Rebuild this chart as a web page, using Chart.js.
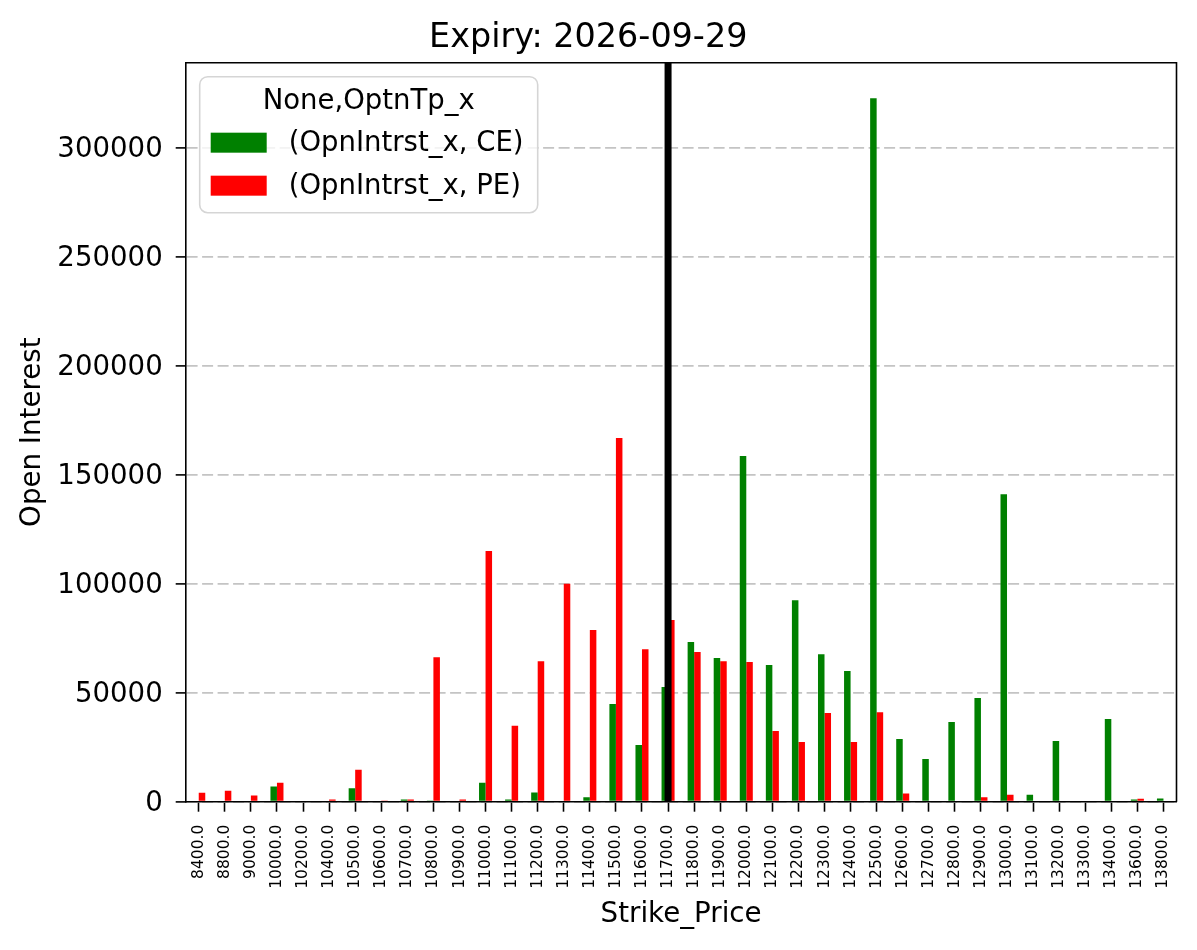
<!DOCTYPE html>
<html>
<head>
<meta charset="utf-8">
<script src="https://cdn.jsdelivr.net/npm/chart.js@4.4.1/dist/chart.umd.min.js"></script>
<style>
  html, body { margin: 0; padding: 0; background: #ffffff; }
  #wrap { width: 1197px; height: 950px; }
</style>
</head>
<body>
<div id="wrap"><canvas id="c" width="1197" height="950"></canvas></div>
<script>
const chartTitle = "Expiry: 2026-09-29";
const xAxisTitle = "Strike_Price";
const yAxisTitle = "Open Interest";
const legendTitle = "None,OptnTp_x";
const seriesNames = ["(OpnIntrst_x, CE)", "(OpnIntrst_x, PE)"];
const strikes = [8400,8800,9000,10000,10200,10400,10500,10600,10700,10800,10900,11000,11100,11200,11300,11400,11500,11600,11700,11800,11900,12000,12100,12200,12300,12400,12500,12600,12700,12800,12900,13000,13100,13200,13300,13400,13600,13800];
const ceOI = [0,0,0,7000,0,0,6200,0,1000,600,0,8700,1000,4200,0,2000,44800,26000,52600,73300,65900,158600,62700,92500,67700,60000,322800,28800,19600,36600,47600,141100,3200,27900,0,38000,1000,1500];
const peOI = [4100,5000,2800,8700,0,1000,14700,500,1000,66300,1000,115000,34800,64500,100000,78800,166900,70000,83400,68700,64500,64100,32400,27400,40700,27400,41100,3800,0,0,2000,3200,0,0,0,0,1400,0];
const yTicks = [0,50000,100000,150000,200000,250000,300000];
const yMax = 339150;
const spotStrike = 11700;

const labels = strikes.map(s => s.toFixed(1));
const FONT = "'DejaVu Sans', sans-serif";

const framePlugin = {
  id: 'frame',
  afterDraw(chart) {
    const {ctx, chartArea: a, scales} = chart;
    const xp = scales.x.getPixelForValue(labels.indexOf(spotStrike.toFixed(1)));
    ctx.save();
    ctx.strokeStyle = '#000000';
    ctx.lineWidth = 7;
    ctx.beginPath();
    ctx.moveTo(xp, a.top);
    ctx.lineTo(xp, a.bottom);
    ctx.stroke();
    ctx.lineWidth = 1.6;
    ctx.beginPath();
    ctx.moveTo(a.left, a.top);
    ctx.lineTo(a.right, a.top);
    ctx.lineTo(a.right, a.bottom);
    ctx.stroke();
    ctx.restore();
    const lx = a.left + 14, ly = a.top + 14, lw = 338, lh = 136, r = 8;
    ctx.save();
    ctx.beginPath();
    ctx.moveTo(lx + r, ly);
    ctx.lineTo(lx + lw - r, ly);
    ctx.arcTo(lx + lw, ly, lx + lw, ly + r, r);
    ctx.lineTo(lx + lw, ly + lh - r);
    ctx.arcTo(lx + lw, ly + lh, lx + lw - r, ly + lh, r);
    ctx.lineTo(lx + r, ly + lh);
    ctx.arcTo(lx, ly + lh, lx, ly + lh - r, r);
    ctx.lineTo(lx, ly + r);
    ctx.arcTo(lx, ly, lx + r, ly, r);
    ctx.closePath();
    ctx.fillStyle = 'rgba(255,255,255,0.8)';
    ctx.fill();
    ctx.strokeStyle = '#d5d5d5';
    ctx.lineWidth = 1.6;
    ctx.stroke();
    ctx.fillStyle = '#000000';
    ctx.font = "27.5px " + FONT;
    ctx.textAlign = 'center';
    ctx.textBaseline = 'middle';
    ctx.fillText(legendTitle, lx + lw / 2, ly + 25);
    chart.data.datasets.forEach((ds, i) => {
      const cy = ly + 66 + i * 43;
      ctx.fillStyle = ds.backgroundColor;
      ctx.fillRect(lx + 11, cy - 10, 56, 20);
      ctx.fillStyle = '#000000';
      ctx.textAlign = 'left';
      ctx.fillText(ds.label, lx + 89, cy + 1);
    });
    ctx.restore();
  }
};

new Chart(document.getElementById('c'), {
  type: 'bar',
  data: {
    labels: labels,
    datasets: [
      { label: seriesNames[0], data: ceOI, backgroundColor: '#008000', borderWidth: 0 },
      { label: seriesNames[1], data: peOI, backgroundColor: '#ff0000', borderWidth: 0 }
    ]
  },
  options: {
    responsive: false,
    devicePixelRatio: 1,
    animation: false,
    layout: { padding: { left: 0, right: 20.5, top: 0, bottom: 0 } },
    datasets: { bar: { categoryPercentage: 0.5, barPercentage: 1.0 } },
    plugins: {
      legend: { display: false },
      tooltip: { enabled: false },
      title: {
        display: true,
        text: chartTitle,
        color: '#000000',
        font: { family: FONT, size: 33.4, weight: 'normal', lineHeight: 1.2 },
        padding: { top: 18, bottom: 4.6 }
      }
    },
    scales: {
      x: {
        offset: true,
        grid: { display: true, drawOnChartArea: false, drawTicks: true, tickLength: 10, tickColor: '#000000', tickWidth: 1.6, offset: false },
        border: { display: true, color: '#000000', width: 1.6 },
        ticks: {
          color: '#000000', autoSkip: false, minRotation: 90, maxRotation: 90, padding: 13,
          font: { family: FONT, size: 15.5 }
        },
        title: {
          display: true, text: xAxisTitle, color: '#000000',
          font: { family: FONT, size: 27.7, lineHeight: 1.2 },
          padding: { top: 0, bottom: 19 }
        },
        afterFit(scale) { scale.height = 950 - 801.7; }
      },
      y: {
        min: 0,
        max: yMax,
        z: 1,
        afterBuildTicks(scale) { scale.ticks = yTicks.map(v => ({ value: v })); },
        grid: { display: true, drawOnChartArea: true, color: '#c4c4c4', lineWidth: 1.8, drawTicks: true, tickLength: 10, tickColor: '#000000', tickWidth: 1.6, tickBorderDash: [] },
        border: { display: true, color: '#000000', width: 1.6, dash: [11, 4.5] },
        ticks: {
          color: '#000000', padding: 13, labelOffset: 2,
          font: { family: FONT, size: 27.6 },
          callback: v => String(v)
        },
        title: {
          display: true, text: yAxisTitle, color: '#000000',
          font: { family: FONT, size: 27.7, lineHeight: 1.2 },
          padding: { top: 16, bottom: 0 }
        },
        afterFit(scale) { scale.width = 185.7; }
      }
    }
  },
  plugins: [framePlugin]
});
</script>
</body>
</html>
